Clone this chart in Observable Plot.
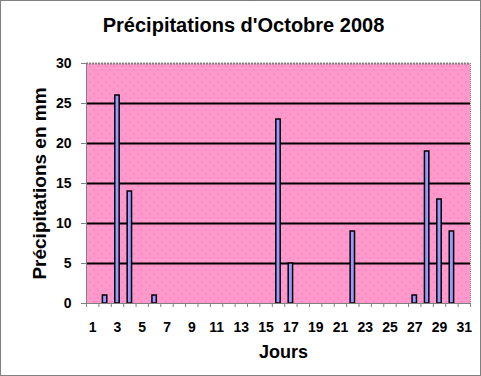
<!DOCTYPE html>
<html>
<head>
<meta charset="utf-8">
<script src="https://cdn.jsdelivr.net/npm/d3@7"></script>
<script src="https://cdn.jsdelivr.net/npm/@observablehq/plot@0.6"></script>
<style>
  html, body { margin: 0; padding: 0; background: white; }
</style>
</head>
<body>
<div id="chart"></div>
<script>
const title = "Précipitations d'Octobre 2008";
const yLabel = "Précipitations en mm";
const xLabel = "Jours";
const days = [1,2,3,4,5,6,7,8,9,10,11,12,13,14,15,16,17,18,19,20,21,22,23,24,25,26,27,28,29,30,31];
const rain = [0,1,26,14,0,1,0,0,0,0,0,0,0,0,0,23,5,0,0,0,0,9,0,0,0,0,1,19,13,9,0];
const xTickLabels = [1,3,5,7,9,11,13,15,17,19,21,23,25,27,29,31];
const yTicks = [0,5,10,15,20,25,30];
const gridLines = [5,10,15,20,25];

const data = days.map((d, i) => ({day: d, value: rain[i]})).filter(d => d.value > 0);
const boundaries = [...days.map(d => d - 0.5), days[days.length - 1] + 0.5];

const ns = "http://www.w3.org/2000/svg";
function decor(index, scales, values, dims, context) {
  const doc = context.document;
  const g = doc.createElementNS(ns, "g");
  const defs = doc.createElementNS(ns, "defs");
  const pat = doc.createElementNS(ns, "pattern");
  pat.setAttribute("id", "dots");
  pat.setAttribute("width", 8);
  pat.setAttribute("height", 8);
  pat.setAttribute("patternUnits", "userSpaceOnUse");
  const bg = doc.createElementNS(ns, "rect");
  bg.setAttribute("width", 8); bg.setAttribute("height", 8); bg.setAttribute("fill", "#ff99cc");
  pat.appendChild(bg);
  for (const [x, y] of [[1, 1], [5, 5]]) {
    const r = doc.createElementNS(ns, "rect");
    r.setAttribute("x", x); r.setAttribute("y", y);
    r.setAttribute("width", 1); r.setAttribute("height", 1);
    r.setAttribute("fill", "#f26aac");
    pat.appendChild(r);
  }
  defs.appendChild(pat);
  g.appendChild(defs);
  const border = doc.createElementNS(ns, "rect");
  border.setAttribute("x", 0.5); border.setAttribute("y", 0.5);
  border.setAttribute("width", dims.width - 1); border.setAttribute("height", dims.height - 1);
  border.setAttribute("fill", "none"); border.setAttribute("stroke", "#000");
  border.setAttribute("stroke-dasharray", "1,1");
  g.appendChild(border);
  return g;
}

const chart = Plot.plot({
  width: 481,
  height: 376,
  marginLeft: 86,
  marginRight: 11,
  marginTop: 63,
  marginBottom: 73,
  style: { fontFamily: "'Liberation Sans', Arial, sans-serif", background: "white", color: "black" },
  x: { type: "linear", domain: [0.5, 31.5] },
  y: { domain: [0, 30] },
  marks: [
    decor,
    Plot.frame({ fill: "url(#dots)", stroke: null }),
    Plot.ruleY(gridLines, { stroke: "black", strokeWidth: 2 }),
    Plot.rectY(data, {
      x1: d => d.day - 0.5, x2: d => d.day + 0.5, y: "value",
      insetLeft: 4, insetRight: 4,
      fill: "#9999ff", stroke: "black", strokeWidth: 1.5
    }),
    Plot.ruleY([30], { stroke: "#808080", strokeWidth: 2, strokeDasharray: "2,1" }),
    Plot.ruleX([31.5], { stroke: "#808080", strokeWidth: 1, strokeDasharray: "1,1" }),
    Plot.ruleX([0.5], { stroke: "#808080", strokeWidth: 1 }),
    Plot.ruleY([0], { stroke: "#808080", strokeWidth: 1 }),
    Plot.axisY({ ticks: yTicks, tickSize: 5, tickPadding: 10, stroke: "#808080",
      fontSize: 14, fontWeight: "bold", label: null }),
    Plot.axisX({ ticks: boundaries, tickSize: 4, tickFormat: () => "", stroke: "#808080", label: null }),
    Plot.axisX({ ticks: xTickLabels, tickSize: 0, tickPadding: 19,
      fontSize: 14, fontWeight: "bold", label: null }),
    Plot.text([title], { frameAnchor: "top", textAnchor: "middle", lineAnchor: "middle",
      dx: -35, dy: -38, fontSize: 20, fontWeight: "bold" }),
    Plot.text([yLabel], { frameAnchor: "left", textAnchor: "middle", lineAnchor: "middle",
      dx: -47, rotate: -90, fontSize: 19, fontWeight: "bold" }),
    Plot.text([xLabel], { frameAnchor: "bottom", textAnchor: "middle", lineAnchor: "middle",
      dx: 5, dy: 49, fontSize: 18, fontWeight: "bold" })
  ]
});
document.getElementById("chart").appendChild(chart);
</script>
</body>
</html>
